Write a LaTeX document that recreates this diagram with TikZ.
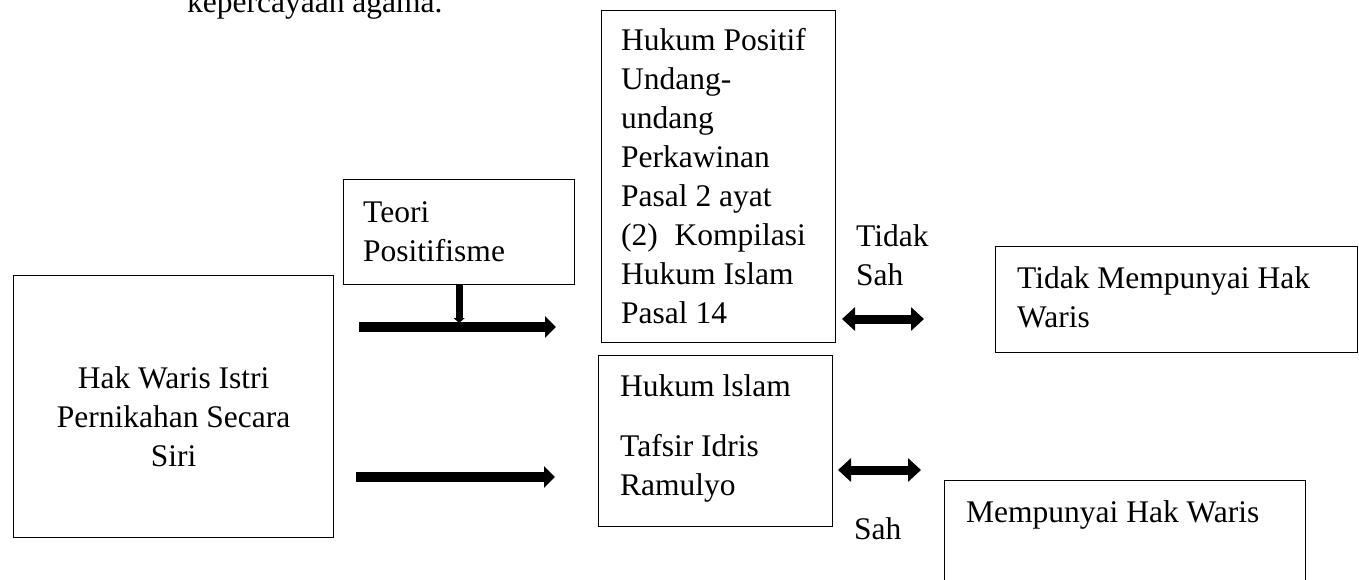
\documentclass[tikz,border=0pt]{standalone}
\usepackage{fontspec}
\setmainfont{Liberation Serif}
\usetikzlibrary{arrows.meta}

\begin{document}
\begin{tikzpicture}[x=1pt,y=-1pt,
  box/.style={draw,line width=1.3pt,inner sep=0pt,anchor=north west},
  lbl/.style={anchor=base west,inner sep=0pt,align=left,font=\fontsize{31.5}{39}\selectfont},
  flow/.style={line width=10pt,-{Triangle[length=11pt,width=21pt]}},
  drop/.style={line width=7pt,-{Triangle[length=5pt,width=11pt]}},
  both/.style={line width=9pt,{Triangle[length=13pt,width=23pt]}-{Triangle[length=13pt,width=23pt]}}]
\useasboundingbox (0,0) rectangle (1359,580);
\clip (0,0) rectangle (1359,580);
% ---- cut-off line of the page text ----
\node[lbl] (page) at (187,13) {kepercayaan agama.};
% ---- boxes ----
\node[box,minimum width=320pt,minimum height=262pt] (hak) at (13,275) {};
\node[box,minimum width=231pt,minimum height=105pt] (teori) at (343,179) {};
\node[box,minimum width=234pt,minimum height=332pt] (hpos) at (601,10) {};
\node[box,minimum width=234pt,minimum height=171pt] (hisl) at (598,355) {};
\node[box,minimum width=362pt,minimum height=106pt] (tidak) at (995,246) {};
\node[box,minimum width=361pt,minimum height=140pt] (punya) at (944,480) {};
% ---- texts (placed at the baseline of the last line) ----
\node[lbl,anchor=center,align=center,yshift=-10pt] (haktxt) at (hak.center) {Hak Waris Istri\\Pernikahan Secara\\Siri};
\node[lbl] (teoritxt) at (363,261) {Teori\\Positifisme};
\node[lbl] (hpostxt) at (621,323) {Hukum Positif\\Undang-\\undang\\Perkawinan\\Pasal 2 ayat\\(2)\hspace{0.53em}Kompilasi\\Hukum Islam\\Pasal 14};
\node[lbl] (hisltxt) at (620,495) {Hukum lslam\\[21pt]Tafsir Idris\\Ramulyo};
\node[lbl] (tidaktxt) at (1017,327) {Tidak Mempunyai Hak\\Waris};
\node[lbl] (punyatxt) at (966,522) {Mempunyai Hak Waris};
\node[lbl] (tsah) at (856,285) {Tidak\\Sah};
\node[lbl] (sah) at (854,539) {Sah};
% ---- arrows ----
\coordinate (f1a) at (359,327);
\coordinate (f1b) at (556,327);
\coordinate (f2a) at (356,477);
\coordinate (f2b) at (555,477);
\coordinate (d1a) at (842,319);
\coordinate (d1b) at (924,319);
\coordinate (d2a) at (838,470);
\coordinate (d2b) at (921,470);
\draw[flow] (f1a) -- (f1b);
\draw[drop,shorten >=4pt] (teori.south) -- (teori.south |- f1a);
\draw[flow] (f2a) -- (f2b);
\draw[both] (d1a) -- (d1b);
\draw[both] (d2a) -- (d2b);
\end{tikzpicture}
\end{document}
